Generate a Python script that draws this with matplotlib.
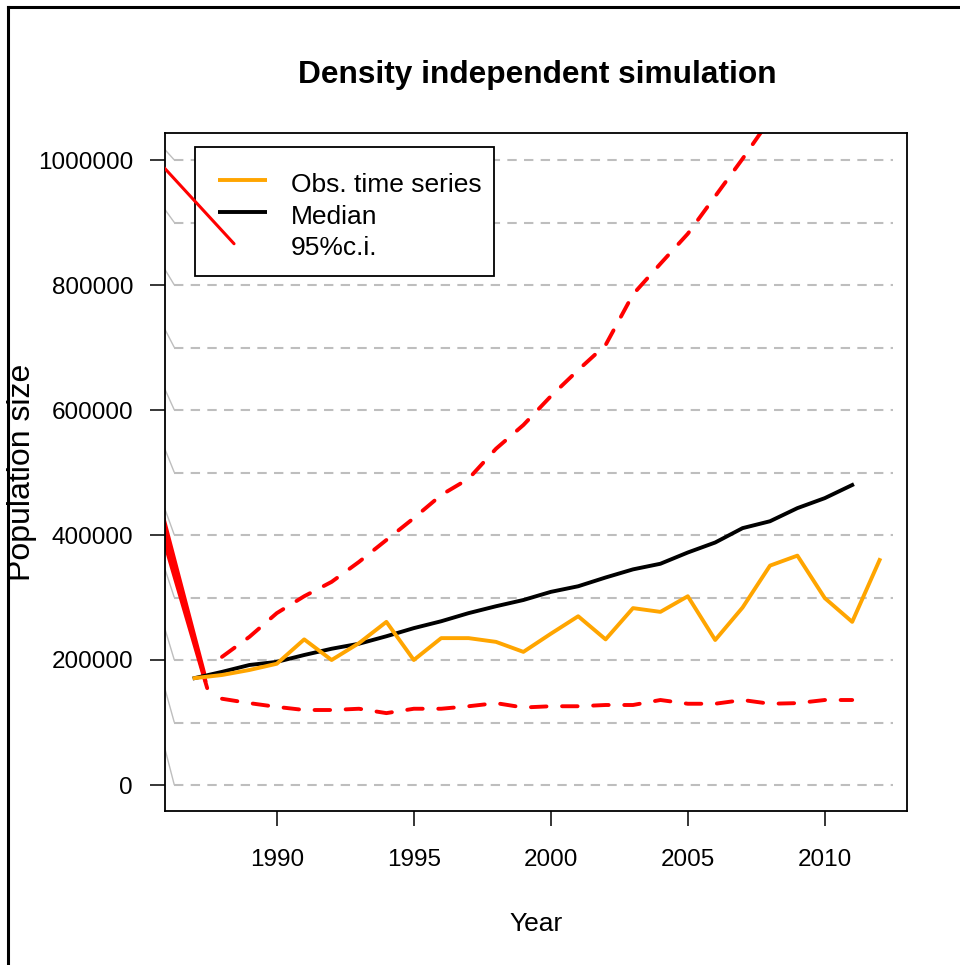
import numpy as np
import matplotlib
matplotlib.use("Agg")
import matplotlib.pyplot as plt
from matplotlib.lines import Line2D
from matplotlib.patches import Rectangle

plt.rcParams['font.family'] = ['Liberation Sans', 'DejaVu Sans']

# observed time series
obs_years = list(range(1987, 2013))
obs_pop = [171000, 176000, 184000, 194000, 233000, 200000, 227000, 261000,
           200000, 235000, 235000, 229000, 213000, 242000, 270000, 233000,
           283000, 277000, 302000, 232000, 284000, 351000, 367000, 299000,
           261000, 360000]

# simulation median
med_years = list(range(1987, 2012))
med_pop = [171000, 181000, 192000, 197000, 208000, 218000, 226000, 238000,
           251000, 262000, 275000, 286000, 296000, 309000, 318000, 332000,
           345000, 354000, 372000, 388000, 411000, 422000, 443000, 459000,
           480000]

# 95% c.i.
ci_years = list(range(1988, 2012))
ci_upper = [205000, 237000, 275000, 302000, 325000, 357000, 392000, 427000,
            464000, 490000, 538000, 576000, 622000, 664000, 704000, 785000,
            834000, 882000, 942000, 1002000, 1065000, 1120000, 1175000, 1235000]
ci_lower = [138000, 131000, 125000, 120000, 120000, 122000, 115000, 122000,
            122000, 126000, 131000, 124000, 126000, 126000, 128000, 128000,
            136000, 130000, 130000, 136000, 130000, 131000, 136000, 136000]

# grey reference levels
ref_levels = list(range(0, 1000001, 100000))
ref_origin = (1978.0, 1400000)
ref_start, ref_end = 1986.26, 2012.5

# stray red strokes at the left edge (year, pop pairs)
stray_x = [[1985.5, 1987.35], [1985.5, 1987.40], [1985.5, 1987.46]]
stray_y = [[488000, 179000], [470000, 166000], [448000, 155000]]
legend_stray_x = [1985.0, 1988.44]
legend_stray_y = [1030000, 866000]

legend_labels = ['Obs. time series', 'Median', '95%c.i.']
legend_colors = ['#FFA500', 'black', None]

fig = plt.figure(figsize=(9.6, 9.65), dpi=100)
ax = fig.add_axes([165/960, 1-811/965, 742/960, 678/965])


def axpos(px, py):
    # figure pixels -> axes fraction
    return (px - 165) / 742, (811 - py) / 678


for lev in ref_levels:
    ax.plot([ref_origin[0], ref_start], [ref_origin[1], lev], color='#BEBEBE', lw=1.0,
            solid_capstyle='butt')
    ax.plot([ref_start, ref_end], [lev, lev], color='#BEBEBE', lw=1.5,
            dashes=(4.5, 3.5))

for xs, ys in zip(stray_x, stray_y):
    ax.plot(xs, ys, color='red', lw=2.8, solid_capstyle='round')

ax.plot(ci_years, ci_upper, color='red', lw=2.8, dashes=(4, 4), dash_capstyle='round')
ax.plot(ci_years, ci_lower, color='red', lw=2.8, dashes=(4, 4), dash_capstyle='round')
ax.plot(med_years, med_pop, color='black', lw=2.8)
ax.plot(obs_years, obs_pop, color='#FFA500', lw=2.8)

ax.set_xlim(1985.92, 2013.0)
ax.set_ylim(-41600, 1043200)
ax.set_xticks([1990, 1995, 2000, 2005, 2010])
ax.set_yticks(range(0, 1000001, 200000))
ax.set_yticklabels([str(v) for v in range(0, 1000001, 200000)])
ax.tick_params(axis='both', direction='out', length=11, width=1.1, labelsize=17.5)
ax.tick_params(axis='x', pad=16)
ax.tick_params(axis='y', pad=12)
for sp in ax.spines.values():
    sp.set_linewidth(1.3)

ax.set_xlabel('Year', fontsize=19)
ax.xaxis.set_label_coords(0.5, (811-924)/678)
ax.xaxis.label.set_va('center')
ax.set_ylabel('Population size', fontsize=23)
ax.yaxis.set_label_coords((22-165)/742, 0.5)
ax.yaxis.label.set_va('center')
fig.text(537/960, 1-75/965, 'Density independent simulation', ha='center', va='center',
         fontsize=22.8, fontweight='bold')

# legend box drawn by hand
x0, y0 = axpos(195, 276)
x1, y1 = axpos(494, 147)
ax.add_patch(Rectangle((x0, y0), x1 - x0, y1 - y0, transform=ax.transAxes,
                       facecolor='white', edgecolor='black', lw=1.3, zorder=5))
for i, (lab, col) in enumerate(zip(legend_labels, legend_colors)):
    row = 180 + 31.5 * i
    if col is not None:
        hx0, hy = axpos(218, row)
        hx1, _ = axpos(267, row)
        ax.plot([hx0, hx1], [hy, hy], color=col, lw=2.8, transform=ax.transAxes,
                zorder=5.5, solid_capstyle='butt')
    tx, ty = axpos(291, row + 12)
    ax.text(tx, ty, lab, transform=ax.transAxes, ha='left', va='baseline',
            fontsize=19, zorder=5.5)

# red stroke crossing the legend box, drawn on top of it
ax.plot(legend_stray_x, legend_stray_y, color='red', lw=2.2, solid_capstyle='round',
        zorder=6)

fig.add_artist(Line2D([8/960, 8/960], [0, 1-7/965], color='black', lw=2.2))
fig.add_artist(Line2D([8/960, 1], [1-7/965, 1-7/965], color='black', lw=2.2))

fig.savefig('out.png', dpi=100)
